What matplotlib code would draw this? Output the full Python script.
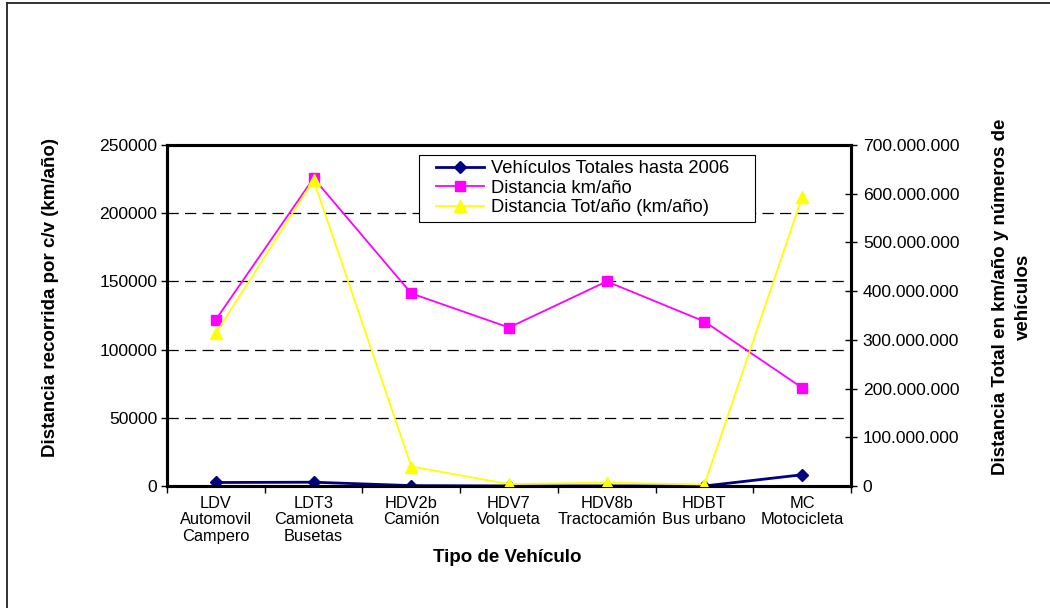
import matplotlib
matplotlib.use('Agg')
import matplotlib.pyplot as plt
from matplotlib.lines import Line2D
from matplotlib.patches import Rectangle
import numpy as np

plt.rcParams['font.family'] = ['Liberation Sans', 'DejaVu Sans']

# ---- data ----
categories = ["LDV\nAutomovil\nCampero", "LDT3\nCamioneta\nBusetas", "HDV2b\nCamión",
              "HDV7\nVolqueta", "HDV8b\nTractocamión", "HDBT\nBus urbano", "MC\nMotocicleta"]
vehiculos = [2570, 2780, 280, 35, 50, 25, 8240]
distancia_km = [122000, 225700, 141200, 116200, 150000, 120600, 72000]
distancia_tot = [313.6e6, 628e6, 40e6, 4e6, 7e6, 3e6, 593.6e6]
series_labels = ["Vehículos Totales hasta 2006", "Distancia km/año", "Distancia Tot/año (km/año)"]
left_ticks = [0, 50000, 100000, 150000, 200000, 250000]
right_ticks = [0, 100e6, 200e6, 300e6, 400e6, 500e6, 600e6, 700e6]
right_tick_labels = [f"{int(v):,}".replace(",", ".") for v in right_ticks]

W, H = 1050, 608
fig = plt.figure(figsize=(W / 100, H / 100), dpi=100)
L, R, T, B = 167, 851, 145, 486
ax = fig.add_axes([L / W, 1 - B / H, (R - L) / W, (B - T) / H])
ax2 = ax.twinx()

x = np.arange(len(categories))
h1, = ax.plot(x, vehiculos, color='#000080', marker='D', markersize=6.5, lw=2.0, zorder=3)
h2, = ax.plot(x, distancia_km, color='#FF00FF', marker='s', markersize=7, lw=1.3, zorder=3)
h3, = ax2.plot(x, distancia_tot, color='#FFFF00', marker='^', markersize=8, lw=1.3, zorder=3)

ax.set_xlim(-0.5, len(categories) - 0.5)
ax.set_ylim(0, 250000)
ax2.set_ylim(0, 700e6)
ax.set_yticks(left_ticks)
ax.set_yticklabels([str(v) for v in left_ticks])
ax2.set_yticks(right_ticks)
ax2.set_yticklabels(right_tick_labels)

ax.set_xticks(x)
ax.set_xticklabels(categories, linespacing=1.12)
ax.set_xticks(np.arange(-0.5, len(categories), 1), minor=True)
ax.tick_params(axis='x', which='major', length=0, labelsize=11.8, pad=7)
ax.tick_params(axis='x', which='minor', direction='out', length=5, width=1)
ax.tick_params(axis='y', direction='out', length=4, width=1, labelsize=12.6, pad=3)
ax2.tick_params(axis='y', direction='inout', length=9, width=1, labelsize=12.6, pad=4)

ax.set_axisbelow(True)
ax.yaxis.grid(True, linestyle=(0, (9, 5)), color='black', lw=0.9)

for a in (ax, ax2):
    for s in a.spines.values():
        s.set_linewidth(2.2)
        s.set_color('black')

# legend box
ax2.add_patch(Rectangle((419 / W, 1 - 222 / H), 336 / W, 67 / H, transform=fig.transFigure,
                        facecolor='white', edgecolor='black', lw=0.8, zorder=4))
leg = ax2.legend([h1, h2, h3], series_labels, loc='upper left',
                 bbox_to_anchor=(436 / W, 1 - 160 / H), bbox_transform=fig.transFigure,
                 frameon=False, fontsize=13.2, labelspacing=0.14, handlelength=2.6,
                 handletextpad=0.4, borderpad=0, borderaxespad=0)
leg.set_zorder(5)

# axis titles
fig.text(51 / W, 1 - 298 / H, "Distancia recorrida por c/v (km/año)", rotation=90,
         ha='center', va='center', fontsize=13.5, fontweight='bold')
fig.text(1012 / W, 1 - 297 / H, "Distancia Total en km/año y números de\nvehículos",
         rotation=90, ha='center', va='center', multialignment='center',
         fontsize=13.5, fontweight='bold', linespacing=1.5)
fig.text(507 / W, 1 - 557 / H, "Tipo de Vehículo", ha='center', va='center',
         fontsize=13.5, fontweight='bold')

# chart-area border (left and top edges visible)
fig.add_artist(Line2D([7 / W, 7 / W], [0, 1 - 3 / H], transform=fig.transFigure, color='#222222', lw=1.3))
fig.add_artist(Line2D([7 / W, 1], [1 - 3 / H, 1 - 3 / H], transform=fig.transFigure, color='#222222', lw=1.3))

fig.savefig('out.png', dpi=100)
